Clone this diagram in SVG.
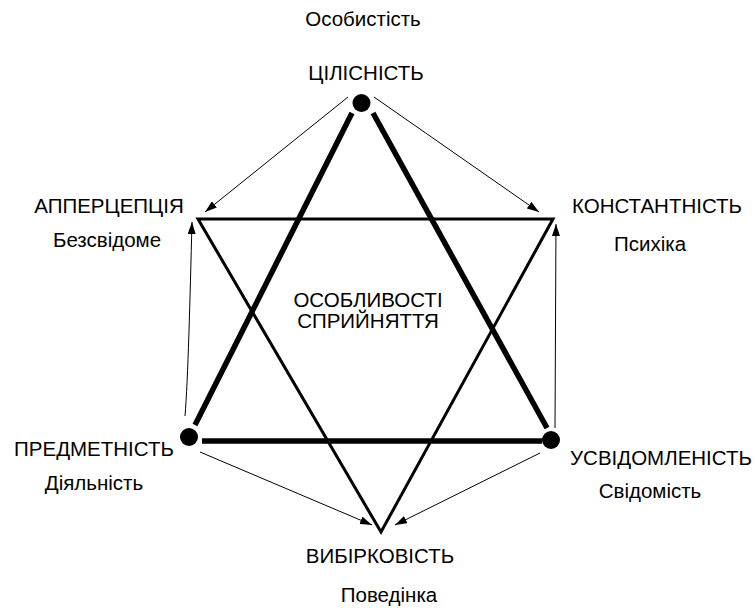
<svg xmlns="http://www.w3.org/2000/svg" width="755" height="610" viewBox="0 0 755 610">
<style>
text{font-family:"Liberation Sans",Arial,sans-serif;font-size:20.5px;fill:#000;text-anchor:middle}
.thin{stroke:#000;stroke-width:1;fill:none;marker-end:url(#ah)}
.mid{stroke:#000;stroke-width:3;fill:none;stroke-linejoin:miter}
.thick{stroke:#000;stroke-width:5.5;fill:none}
</style>
<defs>
<marker id="ah" viewBox="0 0 12 8" refX="12" refY="4" markerWidth="12" markerHeight="8" markerUnits="userSpaceOnUse" orient="auto">
<path d="M0,0 L12,4 L0,8 Z" fill="#000"/>
</marker>
</defs>
<rect width="755" height="610" fill="#fff"/>
<g id="connectors">
<polygon class="mid" points="198,219 553,219 381,532"/>
<line class="thick" x1="352" y1="113" x2="195" y2="425"/>
<line class="thick" x1="373" y1="113" x2="547" y2="428"/>
<line class="thick" x1="202" y1="441" x2="542" y2="441"/>
<line class="thin" x1="348" y1="97" x2="205" y2="212"/>
<line class="thin" x1="374" y1="97" x2="539" y2="212"/>
<path class="thin" d="M185,416 C188,380 190,300 192,222"/>
<line class="thin" x1="555" y1="428" x2="556" y2="224"/>
<line class="thin" x1="200" y1="452" x2="372" y2="525"/>
<line class="thin" x1="540" y1="453" x2="395" y2="525"/>
</g>
<g id="top-label"><text x="363" y="26">Особистість</text></g>
<g id="n-tsilisnist"><circle cx="361.5" cy="103" r="9"/><text x="366" y="80">ЦІЛІСНІСТЬ</text></g>
<g id="n-aperceptsiya"><text x="109" y="213">АППЕРЦЕПЦІЯ</text><text x="107" y="247">Безсвідоме</text></g>
<g id="n-konstantnist"><text x="657" y="213">КОНСТАНТНІСТЬ</text><text x="650" y="251">Психіка</text></g>
<g id="n-center"><text x="368" y="307">ОСОБЛИВОСТІ</text><text x="368" y="328">СПРИЙНЯТТЯ</text></g>
<g id="n-predmetnist"><circle cx="189" cy="437" r="9"/><text x="94" y="456">ПРЕДМЕТНІСТЬ</text><text x="94" y="490">Діяльність</text></g>
<g id="n-usvidomlenist"><circle cx="551" cy="440" r="9"/><text x="661" y="465">УСВІДОМЛЕНІСТЬ</text><text x="650" y="498">Свідомість</text></g>
<g id="n-vybirkovist"><text x="380" y="563">ВИБІРКОВІСТЬ</text><text x="389" y="602">Поведінка</text></g>
</svg>
